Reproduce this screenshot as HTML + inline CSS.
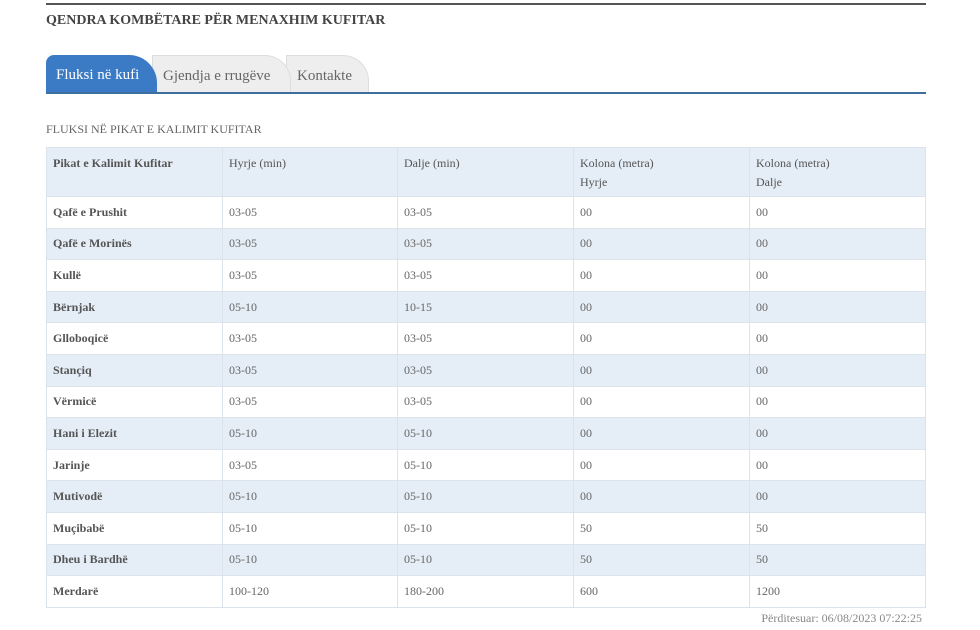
<!DOCTYPE html>
<html><head><meta charset="utf-8"><style>
body{margin:0;width:980px;height:630px;background:#fff;font-family:"Liberation Serif",serif;color:#555;position:relative;overflow:hidden}
.top{position:absolute;left:46px;top:3px;width:880px;height:2px;background:#555}
.h1{position:absolute;left:46px;top:13px;font-size:14px;font-weight:bold;color:#444}
.tab{position:absolute;top:55px;height:38px;border-radius:0 26px 0 0;font-size:15px;line-height:40px;padding-left:10px;box-sizing:border-box}
.t1{left:46px;width:111px;background:#3b7bc6;color:#fff;border-radius:8px 28px 0 0}
.t2{left:152px;width:139px;background:#eee;color:#666;border:1px solid #ddd;border-bottom:none}
.t3{left:286px;width:83px;background:#eee;color:#666;border:1px solid #ddd;border-bottom:none}
.line{position:absolute;left:46px;top:92px;width:880px;height:2px;background:#3c6e9e}
.h2{position:absolute;left:46px;top:122px;font-size:12px;color:#666}
table{position:absolute;left:46px;top:147px;width:880px;border-collapse:collapse;font-size:12px}
td{border:1px solid #dde3ea;padding:0 6px;height:30.6px;vertical-align:middle;color:#666}
td:first-child{font-weight:bold;color:#555}
tr:nth-child(odd) td{background:#e5eef7}
tr.hd td{background:#e5eef7;height:40px;vertical-align:top;padding-top:6px;padding-bottom:2px;line-height:19px;font-weight:normal;color:#555}
tr.hd td:first-child{font-weight:bold}
.ft{position:absolute;right:58px;top:611px;font-size:12px;color:#888}
</style></head><body>
<div class="top"></div>
<div class="h1">QENDRA KOMBËTARE PËR MENAXHIM KUFITAR</div>
<div class="tab t3">Kontakte</div>
<div class="tab t2">Gjendja e rrugëve</div>
<div class="tab t1">Fluksi në kufi</div>
<div class="line"></div>
<div class="h2">FLUKSI NË PIKAT E KALIMIT KUFITAR</div>
<table>
<colgroup><col style="width:176px"><col style="width:175px"><col style="width:176px"><col style="width:176px"><col></colgroup>
<tr class="hd"><td>Pikat e Kalimit Kufitar</td><td>Hyrje (min)</td><td>Dalje (min)</td><td>Kolona (metra)<br>Hyrje</td><td>Kolona (metra)<br>Dalje</td></tr>
<tr><td>Qafë e Prushit</td><td>03-05</td><td>03-05</td><td>00</td><td>00</td></tr>
<tr><td>Qafë e Morinës</td><td>03-05</td><td>03-05</td><td>00</td><td>00</td></tr>
<tr><td>Kullë</td><td>03-05</td><td>03-05</td><td>00</td><td>00</td></tr>
<tr><td>Bërnjak</td><td>05-10</td><td>10-15</td><td>00</td><td>00</td></tr>
<tr><td>Glloboqicë</td><td>03-05</td><td>03-05</td><td>00</td><td>00</td></tr>
<tr><td>Stançiq</td><td>03-05</td><td>03-05</td><td>00</td><td>00</td></tr>
<tr><td>Vërmicë</td><td>03-05</td><td>03-05</td><td>00</td><td>00</td></tr>
<tr><td>Hani i Elezit</td><td>05-10</td><td>05-10</td><td>00</td><td>00</td></tr>
<tr><td>Jarinje</td><td>03-05</td><td>05-10</td><td>00</td><td>00</td></tr>
<tr><td>Mutivodë</td><td>05-10</td><td>05-10</td><td>00</td><td>00</td></tr>
<tr><td>Muçibabë</td><td>05-10</td><td>05-10</td><td>50</td><td>50</td></tr>
<tr><td>Dheu i Bardhë</td><td>05-10</td><td>05-10</td><td>50</td><td>50</td></tr>
<tr><td>Merdarë</td><td>100-120</td><td>180-200</td><td>600</td><td>1200</td></tr>
</table>
<div class="ft">Përditesuar: 06/08/2023 07:22:25</div>
</body></html>
